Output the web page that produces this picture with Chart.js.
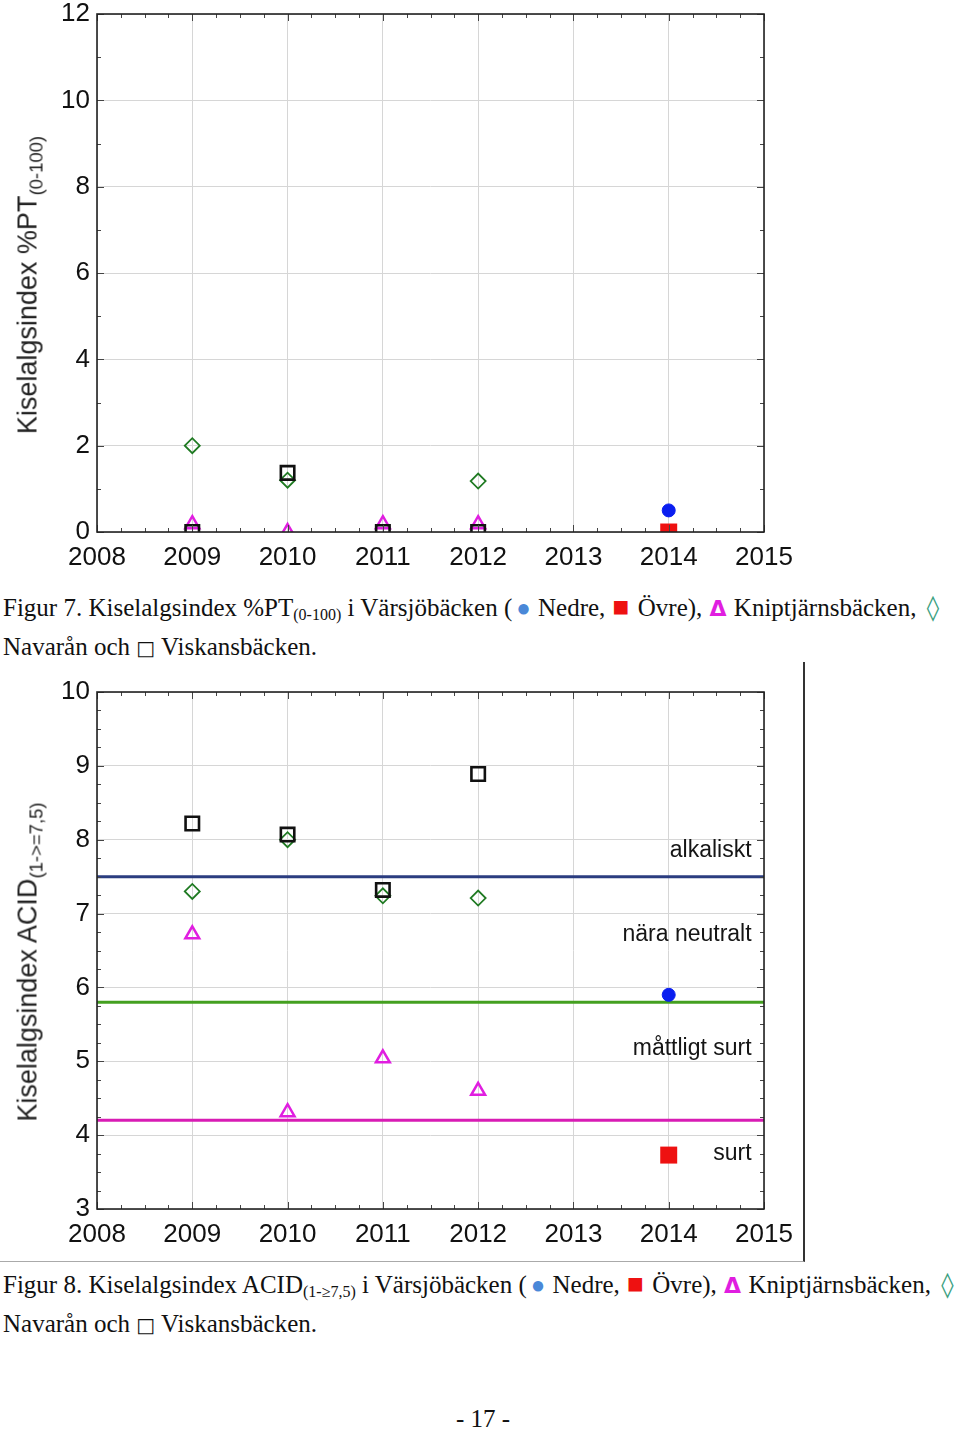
<!DOCTYPE html>
<html>
<head>
<meta charset="utf-8">
<title>Kiselalgsindex</title>
<script src="https://cdn.jsdelivr.net/npm/chart.js@4.4.0/dist/chart.umd.min.js"></script>
<style>
body { margin: 0; background: #fff; }
#page { position: relative; width: 960px; height: 1430px; overflow: hidden; font-family: "Liberation Sans", Arial, sans-serif; }
.holder { position: absolute; left: 0; }
.ytitle { position: absolute; white-space: nowrap; font-size: 27px; color: #222; transform: translate(-50%, -50%) rotate(-90deg); }
.ytitle sub { font-size: 18.5px; vertical-align: -6px; line-height: 0; }
.caption { position: absolute; left: 3px; font-family: "Liberation Serif", "Times New Roman", serif; font-size: 25px; line-height: 38px; color: #111; white-space: nowrap; }
.caption sub { font-size: 16px; vertical-align: -4px; line-height: 0; }
.dot { color: #4a88d8; font-size: 24px; margin: 0 1px 0 4px; }
.sq { color: #ee1111; font-size: 28px; margin: 0 2px 0 1px; line-height: 0; }
.tri { color: #e01ee0; font-weight: bold; font-family: "DejaVu Sans", sans-serif; font-size: 22px; margin: 0 1px 0 1px; }
.loz { color: #3aa080; font-family: "DejaVu Sans", sans-serif; margin-left: 4px; }
.box { font-family: "DejaVu Sans", sans-serif; font-size: 20px; }
#frame { position: absolute; left: -2px; top: 662px; width: 805px; height: 599px; border-right: 2px solid #333; border-bottom: 1px solid #aaa; }
#pagenr { position: absolute; top: 1405px; left: 0; width: 966px; text-align: center; font-family: "Liberation Serif", serif; font-size: 25px; color: #111; }
</style>
</head>
<body>
<div id="page">
	<div class="holder" style="top:-8px"><canvas id="ptChart" width="800" height="588"></canvas></div>
	<div class="ytitle" style="left:28px; top:285px">Kiselalgsindex %PT<sub>(0-100)</sub></div>
	<div class="caption" style="top:589px">Figur 7. Kiselalgsindex %PT<sub>(0-100)</sub> i Värsjöbäcken (<span class="dot">●</span> Nedre, <span class="sq">■</span> Övre), <span class="tri">Δ</span> Kniptjärnsbäcken, <span class="loz">◊</span><br>Navarån och <span class="box">□</span> Viskansbäcken.</div>

	<div id="frame"></div>
	<div class="holder" style="top:670px"><canvas id="acidChart" width="800" height="590"></canvas></div>
	<div class="ytitle" style="left:28px; top:962px">Kiselalgsindex ACID<sub>(1-&gt;=7,5)</sub></div>
	<div class="caption" style="top:1266px">Figur 8. Kiselalgsindex ACID<sub>(1-≥7,5)</sub> i Värsjöbäcken (<span class="dot">●</span> Nedre, <span class="sq">■</span> Övre), <span class="tri">Δ</span> Kniptjärnsbäcken, <span class="loz">◊</span><br>Navarån och <span class="box">□</span> Viskansbäcken.</div>

	<div id="pagenr">- 17 -</div>
</div>
<script>
// sampling years
var years = [2009, 2010, 2011, 2012];
var varsjoYears = [2014];

// Figur 7, %PT
var ptNedre = [0.5];
var ptOvre = [0];
var ptKnipt = [0.18, 0, 0.18, 0.18];
var ptNavaran = [2.0, 1.2, null, 1.18];
var ptViskans = [0, 1.37, 0, 0];
var ptTicks = [0, 12, 2];

// Figur 8, ACID
var acidNedre = [5.9];
var acidOvre = [3.73];
var acidKnipt = [6.72, 4.31, 5.04, 4.6];
var acidNavaran = [7.3, 8.0, 7.24, 7.21];
var acidViskans = [8.22, 8.07, 7.32, 8.89];
var acidTicks = [3, 10, 1];

// class limits and names in figur 8
var classLimits = [7.5, 5.8, 4.2];
var classNames = ["alkaliskt", "nära neutralt", "måttligt surt", "surt"];
var classNameY = [7.85, 6.71, 5.17, 3.75];

var yearRange = [2008, 2015];

var limitColors = ["#2b3d80", "#44a020", "#d81cb4"];
var fontSans = "'Liberation Sans', Arial, sans-serif";

function pts(xs, ys)
{
	var out = [];
	for (var i = 0; i < xs.length; i++)
	{
		if (ys[i] !== null) out.push({x: xs[i], y: ys[i]});
	}
	return out;
}

function markers(label, xs, ys, style, color, filled, radius, width)
{
	return {
		label: label,
		type: "scatter",
		data: pts(xs, ys),
		pointStyle: style,
		pointRadius: radius,
		pointHoverRadius: radius,
		pointBorderColor: color,
		pointBackgroundColor: filled ? color : "rgba(0,0,0,0)",
		pointBorderWidth: width,
		showLine: false,
		clip: 0
	};
}

function allSeries(nedre, ovre, knipt, navaran, viskans)
{
	return [
		markers("Viskansbäcken", years, viskans, "rect", "#111111", false, 9.5, 2.6),
		markers("Navarån", years, navaran, "rectRot", "#1f7a22", false, 7.5, 1.8),
		markers("Kniptjärnsbäcken", years, knipt, "triangle", "#e01ee0", false, 8, 2.5),
		markers("Nedre", varsjoYears, nedre, "circle", "#0a1ef0", true, 6.5, 1),
		markers("Övre", varsjoYears, ovre, "rect", "#ee1111", true, 12, 0)
	];
}

// frame, inner tick marks and class names
var decoPlugin = {
	id: "deco",
	afterDatasetsDraw: function(chart)
	{
		var ctx = chart.ctx;
		var a = chart.chartArea;
		var xs = chart.scales.x;
		var ys = chart.scales.y;
		var o = chart.options.plugins.deco;
		ctx.save();
		ctx.strokeStyle = "#444";
		ctx.lineWidth = 1;
		ctx.beginPath();
		var nx = (yearRange[1] - yearRange[0]) * 4;
		for (var i = 0; i <= nx; i++)
		{
			var px = Math.round(xs.getPixelForValue(yearRange[0] + i / 4)) + 0.5;
			var len = (i % 4 == 0) ? 7 : 4;
			ctx.moveTo(px, a.bottom); ctx.lineTo(px, a.bottom - len);
			ctx.moveTo(px, a.top); ctx.lineTo(px, a.top + len);
		}
		var ny = Math.round((o.ymax - o.ymin) / o.minor);
		var per = Math.round(o.major / o.minor);
		for (var j = 0; j <= ny; j++)
		{
			var py = Math.round(ys.getPixelForValue(o.ymin + j * o.minor)) + 0.5;
			var l2 = (j % per == 0) ? 7 : 4;
			ctx.moveTo(a.left, py); ctx.lineTo(a.left + l2, py);
			ctx.moveTo(a.right, py); ctx.lineTo(a.right - l2, py);
		}
		ctx.stroke();

		ctx.strokeStyle = "#222";
		ctx.lineWidth = 1.6;
		ctx.strokeRect(a.left, a.top, a.right - a.left, a.bottom - a.top);

		if (o.names)
		{
			ctx.fillStyle = "#151515";
			ctx.font = "23px " + fontSans;
			ctx.textAlign = "right";
			ctx.textBaseline = "middle";
			var tx = xs.getPixelForValue(2014.87);
			for (var k = 0; k < o.names.length; k++)
			{
				ctx.fillText(o.names[k], tx, ys.getPixelForValue(o.namesY[k]));
			}
		}
		ctx.restore();
	}
};

function makeOptions(ticks, minor, canvasH, bottomPx, topPx, names, namesY)
{
	var tickFont = {family: fontSans, size: 26};
	return {
		responsive: false,
		animation: false,
		devicePixelRatio: 1,
		layout: {padding: {top: topPx, right: 36, left: 0, bottom: 0}},
		plugins: {
			legend: {display: false},
			tooltip: {enabled: false},
			deco: {ymin: ticks[0], ymax: ticks[1], major: ticks[2], minor: minor, names: names, namesY: namesY}
		},
		scales: {
			x: {
				type: "linear",
				min: yearRange[0],
				max: yearRange[1],
				ticks: {stepSize: 1, padding: 10, color: "#111", font: tickFont, maxRotation: 0, autoSkip: false,
					callback: function(v) { return String(v); }},
				grid: {color: "#d6d6d6", lineWidth: 1, drawTicks: false},
				border: {display: false},
				afterFit: function(s) { s.height = canvasH - bottomPx; s.paddingLeft = 0; s.paddingRight = 0; }
			},
			y: {
				type: "linear",
				min: ticks[0],
				max: ticks[1],
				ticks: {stepSize: ticks[2], padding: 7, color: "#111", font: tickFont},
				grid: {color: "#d6d6d6", lineWidth: 1, drawTicks: false},
				border: {display: false},
				afterFit: function(s) { s.width = 97; s.paddingTop = 0; s.paddingBottom = 0; }
			}
		}
	};
}

new Chart(document.getElementById("ptChart"), {
	type: "scatter",
	data: {datasets: allSeries(ptNedre, ptOvre, ptKnipt, ptNavaran, ptViskans)},
	options: makeOptions(ptTicks, 1, 588, 540, 22, null, null),
	plugins: [decoPlugin]
});

var acidSets = allSeries(acidNedre, acidOvre, acidKnipt, acidNavaran, acidViskans);
for (var i = 0; i < classLimits.length; i++)
{
	acidSets.push({
		label: "gräns " + classLimits[i],
		type: "line",
		data: [{x: yearRange[0], y: classLimits[i]}, {x: yearRange[1], y: classLimits[i]}],
		borderColor: limitColors[i],
		borderWidth: 3,
		pointRadius: 0,
		clip: 0
	});
}

new Chart(document.getElementById("acidChart"), {
	type: "scatter",
	data: {datasets: acidSets},
	options: makeOptions(acidTicks, 0.25, 590, 539, 22, classNames, classNameY),
	plugins: [decoPlugin]
});
</script>
</body>
</html>
